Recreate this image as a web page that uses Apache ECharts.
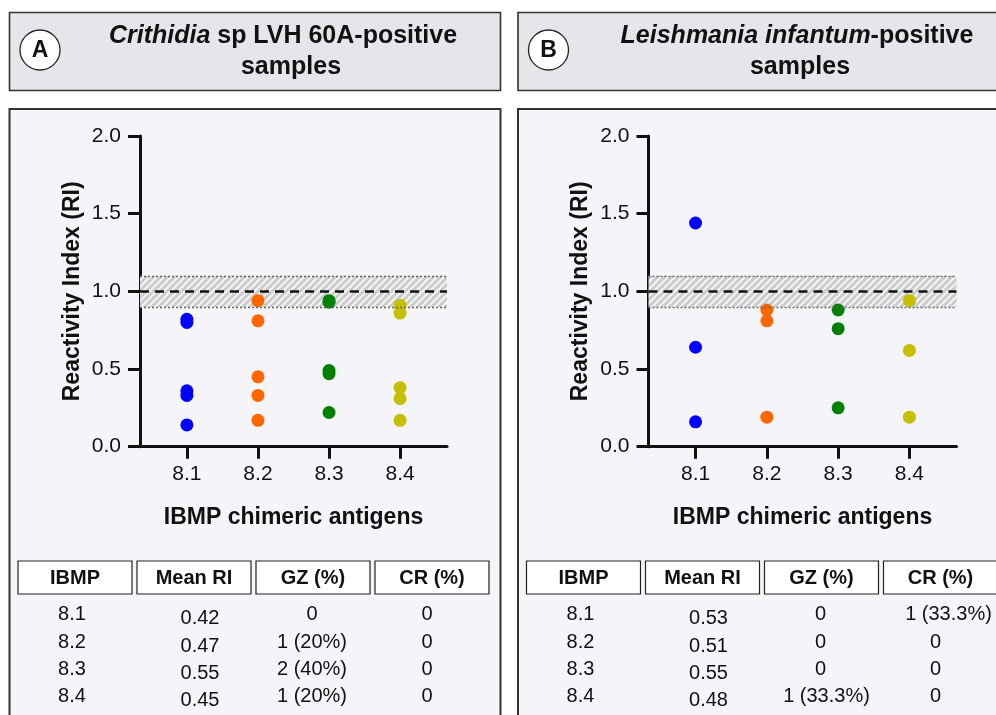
<!DOCTYPE html>
<html>
<head>
<meta charset="utf-8">
<script src="https://cdn.jsdelivr.net/npm/echarts@6/dist/echarts.min.js"></script>
<style>
html,body{margin:0;padding:0;background:#ffffff;}
#chart{width:996px;height:715px;}
</style>
</head>
<body>
<div id="chart"></div>
<script>
// ---------- DATA ----------
var antigens = ['8.1', '8.2', '8.3', '8.4'];
var seriesColors = ['#0000ff', '#ff6600', '#008000', '#c4bf00'];

// Panel A: Crithidia sp LVH 60A-positive samples (RI per sample)
var riA_81 = [0.82, 0.80, 0.36, 0.33, 0.14];
var riA_82 = [0.94, 0.81, 0.45, 0.33, 0.17];
var riA_83 = [0.94, 0.93, 0.49, 0.47, 0.22];
var riA_84 = [0.91, 0.86, 0.38, 0.31, 0.17];

// Panel B: Leishmania infantum-positive samples
var riB_81 = [1.44, 0.64, 0.16];
var riB_82 = [0.88, 0.81, 0.19];
var riB_83 = [0.88, 0.76, 0.25];
var riB_84 = [0.94, 0.62, 0.19];

var yTicks = [0, 0.5, 1.0, 1.5, 2.0];
var cutoff = 1.0;
var grayZoneLow = 0.9;
var grayZoneHigh = 1.1;

var tableHeaders = ['IBMP', 'Mean RI', 'GZ (%)', 'CR (%)'];
var meanRiA = ['0.42', '0.47', '0.55', '0.45'];
var gzA = ['0', '1 (20%)', '2 (40%)', '1 (20%)'];
var crA = ['0', '0', '0', '0'];
var meanRiB = ['0.53', '0.51', '0.55', '0.48'];
var gzB = ['0', '0', '0', '1 (33.3%)'];
var crB = ['1 (33.3%)', '0', '0', '0'];

// ---------- CHART ----------
var FONT = '"Liberation Sans", Arial, Helvetica, sans-serif';
var chart = echarts.init(document.getElementById('chart'), null, {renderer: 'canvas'});

// hatch pattern for the gray zone
function makeHatch() {
  var c = document.createElement('canvas');
  c.width = 7; c.height = 7;
  var g = c.getContext('2d');
  g.fillStyle = '#cdcdcd';
  g.fillRect(0, 0, 7, 7);
  g.strokeStyle = '#f8f8f8';
  g.lineWidth = 1.8;
  g.beginPath();
  g.moveTo(-1, 8); g.lineTo(8, -1);
  g.moveTo(-1, 1); g.lineTo(1, -1);
  g.moveTo(6, 8); g.lineTo(8, 6);
  g.stroke();
  return c;
}
var hatch = makeHatch();

var panelOffset = 508.5;
var gridLefts = [140, 140 + panelOffset];

function toPoints(vals, idx) {
  return vals.map(function (v) { return [idx + 1, v]; });
}

function makeAxes(gi) {
  var xa = {
    type: 'value', gridIndex: gi, min: 0.34, max: 4.66,
    name: 'IBMP chimeric antigens', nameLocation: 'middle', nameGap: 59,
    nameTextStyle: {fontFamily: FONT, fontWeight: 'bold', fontSize: 23, color: '#111'},
    axisLine: {show: true, onZero: false, lineStyle: {color: '#111', width: 3}},
    axisTick: {show: true, length: 12, lineStyle: {color: '#111', width: 3}, customValues: [1, 2, 3, 4]},
    axisLabel: {show: true, margin: 17, fontFamily: FONT, fontSize: 21, color: '#111',
      customValues: [1, 2, 3, 4],
      formatter: function (v) { return antigens[Math.round(v) - 1] || ''; }},
    splitLine: {show: false}
  };
  var ya = {
    type: 'value', gridIndex: gi, min: 0, max: 2, interval: 0.5,
    name: 'Reactivity Index (RI)', nameLocation: 'middle', nameGap: 56, nameRotate: 90,
    nameTextStyle: {fontFamily: FONT, fontWeight: 'bold', fontSize: 23, color: '#111'},
    axisLine: {show: true, lineStyle: {color: '#111', width: 3}},
    axisTick: {show: true, length: 12, lineStyle: {color: '#111', width: 3}},
    axisLabel: {show: true, margin: 19, fontFamily: FONT, fontSize: 21, color: '#111',
      formatter: function (v) { return v.toFixed(1); }},
    splitLine: {show: false}
  };
  return [xa, ya];
}

var axA = makeAxes(0), axB = makeAxes(1);

var panelAData = [riA_81, riA_82, riA_83, riA_84];
var panelBData = [riB_81, riB_82, riB_83, riB_84];

var series = [];
[panelAData, panelBData].forEach(function (pd, gi) {
  // gray zone + cutoff line
  series.push({
    type: 'scatter', xAxisIndex: gi, yAxisIndex: gi, data: [], z: 1,
    silent: true,
    markArea: {
      silent: true,
      itemStyle: {color: {image: hatch, repeat: 'repeat'}},
      data: [[{yAxis: grayZoneLow}, {yAxis: grayZoneHigh}]]
    },
    markLine: {
      silent: true, symbol: 'none', label: {show: false},
      data: [
        {yAxis: grayZoneLow, lineStyle: {type: [2, 2], color: '#666', width: 1.4}},
        {yAxis: grayZoneHigh, lineStyle: {type: [2, 2], color: '#666', width: 1.4}},
        {yAxis: cutoff, lineStyle: {type: [9, 6], color: '#111', width: 2.6}}
      ]
    }
  });
  pd.forEach(function (vals, i) {
    series.push({
      type: 'scatter', xAxisIndex: gi, yAxisIndex: gi, z: 3,
      symbol: 'circle', symbolSize: 13,
      itemStyle: {color: seriesColors[i], opacity: 1},
      data: toPoints(vals, i)
    });
  });
});

// ---------- GRAPHIC: boxes, titles, tables ----------
var graphics = [];
function rect(x, y, w, h, fill, stroke, lw, z) {
  graphics.push({type: 'rect', z: z, silent: true,
    shape: {x: x, y: y, width: w, height: h},
    style: {fill: fill, stroke: stroke, lineWidth: lw}});
}
function text(x, y, str, size, weight, align, z, rich) {
  var st = {text: str, x: x, y: y, fill: '#111',
    font: (weight || 'normal') + ' ' + size + 'px ' + FONT,
    fontSize: size, fontFamily: FONT, fontWeight: weight || 'normal',
    textAlign: align || 'center', align: align || 'center',
    textVerticalAlign: 'middle', verticalAlign: 'middle'};
  if (rich) st.rich = rich;
  graphics.push({type: 'text', z: z || 5, silent: true, style: st});
}

var richTitle = {
  i: {fontStyle: 'italic', fontWeight: 'bold', fontSize: 25, fontFamily: FONT, fill: '#111', color: '#111'},
  b: {fontStyle: 'normal', fontWeight: 'bold', fontSize: 25, fontFamily: FONT, fill: '#111', color: '#111'}
};

[0, 1].forEach(function (p) {
  var ox = p * panelOffset;
  // header box
  rect(9.5 + ox, 12.5, 491, 78, '#e6e6ea', '#333', 1.6, -20);
  // panel box
  rect(9.5 + ox, 109, 491, 640, '#f4f4f9', '#333', 2, -20);
  // circle letter
  graphics.push({type: 'circle', z: 5, silent: true,
    shape: {cx: 40 + ox, cy: 50, r: 20},
    style: {fill: '#ffffff', stroke: '#222', lineWidth: 1.3}});
  text(40 + ox, 51, p === 0 ? 'A' : 'B', 23, 'bold', 'center');
  // title
  if (p === 0) {
    text(283, 36, '{i|Crithidia}{b| sp LVH 60A-positive}', 25, 'bold', 'center', 5, richTitle);
    text(291, 67, '{b|samples}', 25, 'bold', 'center', 5, richTitle);
  } else {
    text(797 , 36, '{i|Leishmania infantum}{b|-positive}', 25, 'bold', 'center', 5, richTitle);
    text(800, 67, '{b|samples}', 25, 'bold', 'center', 5, richTitle);
  }
  // table header
  var hx = [18, 137, 256, 375];
  hx.forEach(function (x, k) {
    rect(x + ox, 561, 114, 33, '#ffffff', '#222', 1.2, 4);
    text(x + ox + 57, 578, tableHeaders[k], 20, 'bold', 'center');
  });
  // table body
  var meanRi = p === 0 ? meanRiA : meanRiB;
  var gz = p === 0 ? gzA : gzB;
  var cr = p === 0 ? crA : crB;
  var rowsY = [614, 642, 669, 696];
  var cx = [72, 200, 312, 427];
  antigens.forEach(function (a, r) {
    text(cx[0] + ox, rowsY[r], a, 20, 'normal', 'center');
    text(cx[1] + ox, rowsY[r] + 4, meanRi[r], 20, 'normal', 'center');
    text(cx[2] + ox + (gz[r].length > 7 ? 6 : 0), rowsY[r], gz[r], 20, 'normal', 'center');
    text(cx[3] + ox + (cr[r].length > 7 ? 13 : 0), rowsY[r], cr[r], 20, 'normal', 'center');
  });
});

var option = {
  backgroundColor: 'transparent',
  animation: false,
  grid: [
    {left: gridLefts[0], top: 136, width: 307, height: 310.7, outerBoundsMode: 'none', containLabel: false},
    {left: gridLefts[1], top: 136, width: 308, height: 310.7, outerBoundsMode: 'none', containLabel: false}
  ],
  xAxis: [axA[0], axB[0]],
  yAxis: [axA[1], axB[1]],
  series: series,
  graphic: {elements: graphics}
};
chart.setOption(option);
</script>
</body>
</html>
